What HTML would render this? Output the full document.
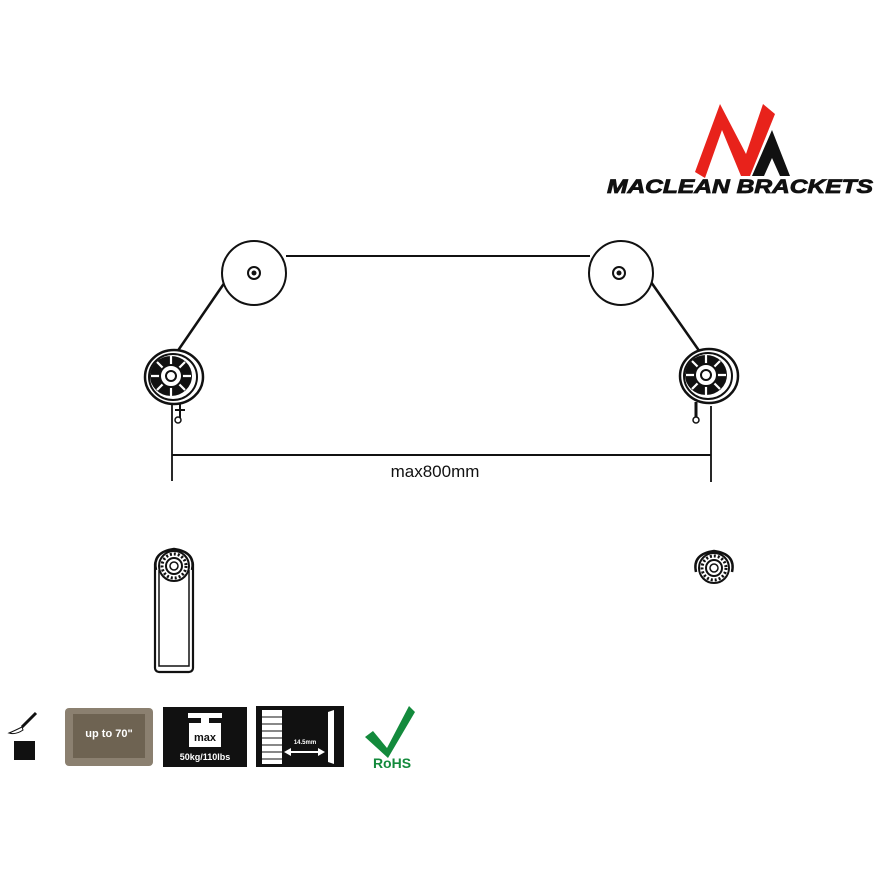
<!DOCTYPE html>
<html><head><meta charset="utf-8"><style>
html,body{margin:0;padding:0;background:#fff;}
svg{display:block}
</style></head><body>
<svg width="876" height="876" viewBox="0 0 876 876" xmlns="http://www.w3.org/2000/svg">
<defs>
<g id="wheel">
  <ellipse cx="0" cy="0" rx="29" ry="27" fill="#fff" stroke="#111" stroke-width="2.5"/>
  <ellipse cx="-1" cy="0" rx="24" ry="23" fill="none" stroke="#111" stroke-width="2"/>
  <ellipse cx="-3" cy="-1" rx="21" ry="20" fill="#111"/>
  <g stroke="#fff" stroke-width="2.2">
    <line x1="-3" y1="-1" x2="-3" y2="-21"/><line x1="-3" y1="-1" x2="-3" y2="19"/>
    <line x1="-3" y1="-1" x2="-23" y2="-1"/><line x1="-3" y1="-1" x2="17" y2="-1"/>
    <line x1="-3" y1="-1" x2="-17" y2="-15"/><line x1="-3" y1="-1" x2="11" y2="13"/>
    <line x1="-3" y1="-1" x2="11" y2="-15"/><line x1="-3" y1="-1" x2="-17" y2="13"/>
  </g>
  <circle cx="-3" cy="-1" r="11" fill="#fff" stroke="#111" stroke-width="2"/>
  <circle cx="-3" cy="-1" r="5" fill="#fff" stroke="#111" stroke-width="2"/>
</g>
<g id="small">
  <path d="M-18,6 Q-22,-12 0,-15 Q22,-12 18,6" fill="#fff" stroke="#111" stroke-width="2.5"/>
  <circle cx="0" cy="2" r="15" fill="#fff" stroke="#111" stroke-width="2"/>
  <circle cx="0" cy="2" r="12" fill="none" stroke="#111" stroke-width="3" stroke-dasharray="2 2"/>
  <circle cx="0" cy="2" r="8" fill="#fff" stroke="#111" stroke-width="2"/>
  <circle cx="0" cy="2" r="4" fill="#fff" stroke="#111" stroke-width="1.5"/>
</g>
</defs>

<!-- logo -->
<polygon points="695,172 720,104 746,154 763,104 775,114 750,176 741,176 722,130 705,178" fill="#e8221b"/>
<polygon points="752,176 772,130 790,176 780,176 772,158 764,176" fill="#111"/>
<text x="740" y="193" text-anchor="middle" font-family="Liberation Sans, sans-serif" font-weight="900" font-style="italic" font-size="19" textLength="266" lengthAdjust="spacingAndGlyphs" fill="#111" stroke="#111" stroke-width="0.8">MACLEAN BRACKETS</text>

<!-- wires -->
<line x1="286" y1="256" x2="590" y2="256" stroke="#111" stroke-width="2"/>
<line x1="225" y1="282" x2="177" y2="352" stroke="#111" stroke-width="2.5"/>
<line x1="651" y1="282" x2="700" y2="352" stroke="#111" stroke-width="2.5"/>

<!-- big circles -->
<circle cx="254" cy="273" r="32" fill="#fff" stroke="#111" stroke-width="2"/>
<circle cx="254" cy="273" r="6" fill="#fff" stroke="#111" stroke-width="2"/>
<circle cx="254" cy="273" r="2.5" fill="#111"/>
<circle cx="621" cy="273" r="32" fill="#fff" stroke="#111" stroke-width="2"/>
<circle cx="619" cy="273" r="6" fill="#fff" stroke="#111" stroke-width="2"/>
<circle cx="619" cy="273" r="2.5" fill="#111"/>

<!-- wheels -->
<use href="#wheel" transform="translate(174,377)"/>
<use href="#wheel" transform="translate(709,376)"/>
<!-- screws -->
<line x1="180" y1="404" x2="180" y2="418" stroke="#111" stroke-width="2"/>
<line x1="175" y1="410" x2="185" y2="410" stroke="#111" stroke-width="2"/>
<circle cx="178" cy="420" r="3" fill="#fff" stroke="#111" stroke-width="1.5"/>
<line x1="696" y1="402" x2="696" y2="418" stroke="#111" stroke-width="3"/>
<circle cx="696" cy="420" r="3" fill="#fff" stroke="#111" stroke-width="1.5"/>

<!-- dimension -->
<line x1="172" y1="405" x2="172" y2="481" stroke="#111" stroke-width="1.8"/>
<line x1="711" y1="406" x2="711" y2="482" stroke="#111" stroke-width="1.8"/>
<line x1="172" y1="455" x2="711" y2="455" stroke="#111" stroke-width="2"/>
<text x="435" y="477" text-anchor="middle" font-family="Liberation Sans, sans-serif" font-size="17" fill="#111">max800mm</text>

<!-- bottom brackets -->
<rect x="155" y="560" width="38" height="112" rx="4" fill="#fff" stroke="#111" stroke-width="2.2"/>
<rect x="159" y="566" width="30" height="100" fill="none" stroke="#111" stroke-width="1.5"/>
<use href="#small" transform="translate(174,564)"/>
<use href="#small" transform="translate(714,566)"/>

<!-- icons -->
<line x1="36" y1="713" x2="22" y2="727" stroke="#111" stroke-width="3"/>
<path d="M22,727 Q14,731 9,733 Q16,735 23,730 Z" fill="#fff" stroke="#111" stroke-width="1"/>
<rect x="14" y="741" width="21" height="19" fill="#111"/>

<rect x="65" y="708" width="88" height="58" rx="4" fill="#8b8070"/>
<rect x="73" y="714" width="72" height="44" fill="#6e6352"/>
<text x="109" y="737" text-anchor="middle" font-family="Liberation Sans, sans-serif" font-weight="bold" font-size="11" fill="#fff">up to 70"</text>

<rect x="163" y="707" width="84" height="60" fill="#111"/>
<rect x="188" y="713" width="34" height="5" fill="#fff"/>
<rect x="201" y="716" width="8" height="8" fill="#fff"/>
<rect x="189" y="723" width="32" height="24" fill="#fff"/>
<text x="205" y="741" text-anchor="middle" font-family="Liberation Sans, sans-serif" font-weight="bold" font-size="11" fill="#111">max</text>
<text x="205" y="760" text-anchor="middle" font-family="Liberation Sans, sans-serif" font-weight="bold" font-size="9" fill="#fff">50kg/110lbs</text>

<rect x="256" y="706" width="88" height="61" fill="#111"/>
<rect x="262" y="710" width="20" height="54" fill="#fff"/>
<g stroke="#111" stroke-width="1">
<line x1="262" y1="717" x2="282" y2="717"/><line x1="262" y1="724" x2="282" y2="724"/><line x1="262" y1="731" x2="282" y2="731"/><line x1="262" y1="738" x2="282" y2="738"/><line x1="262" y1="745" x2="282" y2="745"/><line x1="262" y1="752" x2="282" y2="752"/><line x1="262" y1="759" x2="282" y2="759"/>
</g>
<polygon points="328,712 334,710 334,764 328,762" fill="#fff"/>
<line x1="286" y1="752" x2="322" y2="752" stroke="#fff" stroke-width="2"/>
<polygon points="284,752 291,748 291,756" fill="#fff"/>
<polygon points="325,752 318,748 318,756" fill="#fff"/>
<text x="305" y="744" text-anchor="middle" font-family="Liberation Sans, sans-serif" font-weight="bold" font-size="6" fill="#fff">14.5mm</text>

<polygon points="365,737 373,731 387,748 409,706 415,712 388,758" fill="#138a3c"/>
<text x="392" y="768" text-anchor="middle" font-family="Liberation Sans, sans-serif" font-weight="bold" font-size="14" fill="#138a3c">RoHS</text>
</svg>
</body></html>
